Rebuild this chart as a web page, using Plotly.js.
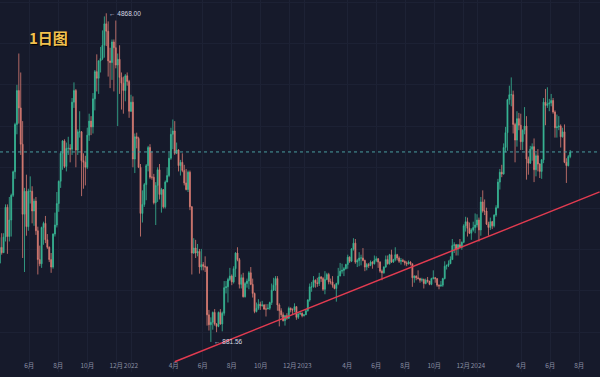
<!DOCTYPE html>
<html><head><meta charset="utf-8">
<script src="https://cdn.plot.ly/plotly-3.0.1.min.js"></script>
<style>html,body{margin:0;padding:0;background:#161a2b;}#chart{width:600px;height:377px;}</style>
</head><body><div id="chart"></div>
<script>
// ETH/USDT, candles aggregated every 4 days (open = previous close)
const startDate = '2021-03-31';
const stepDays = 4;
const firstOpen = 1840;

const closes = [
2028,1964,2153,2515,2160,2360,2660,2945,3520,3930,
3720,3280,2430,2710,2280,2710,2710,2470,2590,2230,
1880,1830,2270,2320,2120,2030,1880,1790,2190,2300,
2560,2830,3170,3320,3010,3230,3230,3220,3790,3930,
3210,3430,3430,3080,3060,3000,3390,3560,3490,3830,
4160,4080,4290,4320,4480,4740,4650,4290,4270,4520,
4450,4240,4310,4090,4020,3930,4110,4040,3680,
3790,3100,3370,3350,3000,2440,2550,2790,3020,3240,
2880,2880,2570,2780,2970,2670,2730,2520,2820,2900,
3110,3400,3440,3170,3210,3020,3060,2960,2810,2730,
2940,2520,1960,2020,1960,1980,1790,1820,1800,1790,
1210,1090,1120,1240,1100,1070,1240,1100,1230,1540,
1550,1640,1680,1610,1770,1960,1880,1580,1660,1430,
1590,1620,1720,1580,1470,1250,1290,1340,1320,1330,
1280,1280,1290,1360,1510,1570,1650,1330,1260,1210,
1140,1200,1170,1290,1270,1270,1310,1180,1220,1230,
1200,1210,
1260,1390,1550,1550,1630,1600,1590,1670,1650,1520,
1640,1700,1610,1610,1570,1530,1590,1680,1740,1750,
1770,1820,1910,1860,2010,2080,1850,1870,1900,1900,
1870,1790,1820,1810,1850,1830,1870,1890,1850,1740,
1720,1790,1880,1830,1940,1850,1880,1940,1900,1860,
1870,1860,1840,1830,1850,1830,1660,1680,1660,1650,
1630,1640,1590,1630,1620,1580,1650,1660,1650,1570,
1560,1570,1650,1800,1810,1830,1880,2050,2060,2010,
2060,2030,2090,2290,2340,2260,2200,2240,2270,2300,
2360,
2240,2580,2470,2470,2310,2270,2340,2290,2420,2510,
2820,2940,2920,3240,3420,3820,3880,3880,3520,3330,
3590,3510,3310,3450,3500,3100,3050,3220,3250,2970,
3140,3040,2950,3090,3790,3750,3770,3780,3810,3670,
3480,3490,3500,3370,3430,3060,3020,3130,3186
];

const highs = [
2150,2200,2200,2550,2550,2640,2680,2960,3540,4000,
4380,4150,3560,2750,2910,2740,2890,2770,2620,2640,
2280,2050,2280,2340,2410,2190,2040,1960,2200,2450,
2700,2840,3190,3330,3340,3300,3370,3280,3840,4030,
3950,3460,3680,3440,3170,3140,3480,3650,3620,3900,
4180,4370,4300,4460,4660,4830,4868,4770,4450,4550,
4550,4780,4380,4480,4150,4100,4130,4150,4060,
3880,3860,3410,3420,3370,3040,2720,2810,3040,3260,
3280,3190,2920,2820,3000,3040,2750,2730,2840,3000,
3180,3480,3580,3560,3300,3220,3090,3170,3030,2980,
2960,2960,2530,2140,2120,2070,2010,2010,1850,1920,
1800,1270,1180,1250,1280,1110,1250,1280,1250,1620,
1620,1660,1780,1700,1800,1970,2030,1900,1700,1720,
1610,1650,1740,1790,1650,1480,1360,1400,1370,1380,
1340,1340,1340,1370,1590,1660,1680,1680,1350,1290,
1240,1210,1230,1310,1300,1290,1350,1310,1230,1240,
1240,1220,
1280,1400,1590,1610,1680,1640,1660,1720,1680,1670,
1740,1720,1720,1650,1680,1580,1600,1780,1840,1830,
1790,1830,1940,1920,2020,2140,2130,1890,1970,1940,
2020,1880,1840,1840,1870,1860,1930,1920,1900,1860,
1760,1800,1930,1930,1950,2000,1890,2030,1950,1920,
1900,1890,1870,1860,1870,1860,1830,1690,1690,1750,
1660,1660,1650,1650,1670,1620,1660,1750,1670,1650,
1580,1620,1660,1860,1820,1870,1920,2130,2090,2070,
2070,2130,2100,2310,2400,2390,2330,2260,2340,2440,
2430,
2390,2640,2720,2610,2510,2340,2390,2350,2430,2540,
2860,2980,3030,3290,3490,3830,3990,4090,3930,3540,
3680,3660,3650,3460,3730,3620,3130,3260,3290,3350,
3170,3220,3050,3100,3840,3950,3970,3830,3890,3840,
3690,3640,3620,3520,3480,3520,3110,3150,3210
];

const lows = [
1830,1940,1960,2100,1950,2100,2160,2640,2860,3400,
3530,3150,1900,1730,2170,2230,2560,2320,2290,2180,
1700,1800,1780,2060,2080,2010,1850,1720,1770,2160,
2270,2460,2750,2970,2990,2950,3150,3060,3150,3720,
3000,3150,3360,2650,2740,2780,2980,3320,3390,3410,
3690,3920,3890,4150,4300,4330,4470,4100,3960,4060,
3920,4200,3500,3890,3700,3650,3800,3990,3600,
3670,3000,2930,3230,2990,2160,2330,2520,2600,2950,
2860,2850,2550,2300,2580,2610,2450,2500,2500,2820,
2880,3090,3220,3150,3160,2950,2900,2940,2780,2720,
2700,2480,1700,1950,1900,1920,1710,1750,1750,1730,
1080,1020,881.56,1030,1080,1000,1060,1090,1010,1200,
1470,1360,1620,1570,1590,1670,1860,1530,1530,1420,
1420,1540,1520,1570,1420,1230,1240,1270,1270,1310,
1270,1190,1280,1270,1330,1500,1500,1260,1070,1180,
1130,1080,1150,1160,1240,1220,1240,1150,1160,1210,
1180,1190,
1210,1250,1370,1490,1540,1540,1550,1560,1610,1500,
1460,1630,1580,1580,1540,1520,1370,1570,1680,1710,
1680,1760,1770,1840,1850,1990,1830,1790,1800,1810,
1860,1740,1750,1780,1800,1770,1820,1850,1780,1720,
1630,1710,1780,1820,1820,1840,1840,1860,1870,1840,
1820,1850,1810,1800,1820,1810,1550,1600,1630,1640,
1600,1610,1530,1580,1600,1570,1570,1640,1600,1550,
1520,1550,1550,1640,1760,1790,1830,1880,1960,1930,
1930,2020,2000,2080,2220,2160,2190,2120,2220,2200,
2270,
2100,2170,2450,2420,2300,2170,2240,2250,2270,2400,
2500,2730,2880,2910,3180,3200,3760,3740,3410,3060,
3250,3450,3210,3210,3400,2850,2910,3040,3080,2820,
2890,2950,2870,2860,3050,3510,3720,3680,3740,3650,
3360,3360,3450,3240,3360,3050,2810,3010,3110
];

const tickVals = ['2021-06-01','2021-08-01','2021-10-01','2021-12-01','2022-01-01','2022-04-01','2022-06-01','2022-08-01','2022-10-01','2022-12-01','2023-01-01','2023-04-01','2023-06-01','2023-08-01','2023-10-01','2023-12-01','2024-01-01','2024-04-01','2024-06-01','2024-08-01'];
const tickText = ['6月','8月','10月','12月','2022','4月','6月','8月','10月','12月','2023','4月','6月','8月','10月','12月','2024','4月','6月','8月'];

const trendDates = ['2022-04-03','2024-09-13'];
const trendPrices = [642, 2702];
const chartLabel = '1日图';

function addDays(s, n){ const d = new Date(s + 'T00:00:00Z'); d.setUTCDate(d.getUTCDate() + n); return d.toISOString().slice(0,10); }
const dates = closes.map((_, i) => addDays(startDate, i * stepDays));
const opens = closes.map((c, i) => i === 0 ? firstOpen : closes[i-1]);

let iMax = 0, iMin = 0;
highs.forEach((v,i)=>{ if (v > highs[iMax]) iMax = i; });
lows.forEach((v,i)=>{ if (v < lows[iMin]) iMin = i; });
const lastClose = closes[closes.length-1];

const bg = '#161a2b';
const upC = '#38b896', dnC = '#d97c73';

const traces = [
  {type:'candlestick', x:dates, open:opens, high:highs, low:lows, close:closes,
   increasing:{line:{color:upC,width:0.8}, fillcolor:upC},
   decreasing:{line:{color:dnC,width:0.8}, fillcolor:dnC},
   whiskerwidth:0, hoverinfo:'skip', showlegend:false},
  {type:'scatter', mode:'lines', x:trendDates, y:trendPrices,
   line:{color:'#e23b50', width:1.5}, hoverinfo:'skip', showlegend:false}
];

const layout = {
  width:600, height:377,
  margin:{l:0, r:0, t:0, b:5},
  paper_bgcolor:bg, plot_bgcolor:bg,
  showlegend:false,
  xaxis:{type:'date', range:['2021-03-31 09:36','2024-09-13 16:48'],
    rangeslider:{visible:false}, tickmode:'array', tickvals:tickVals, ticktext:tickText,
    ticklabelposition:'inside', ticks:'', tickangle:0,
    tickfont:{size:6.5, color:'#8a8fa3', family:'Noto Sans CJK SC, Liberation Sans'},
    showgrid:true, gridcolor:'#1d2235', gridwidth:1, zeroline:false, showline:false, fixedrange:true},
  yaxis:{range:[517,5029], showticklabels:false, showgrid:true, gridcolor:'#1c2134',
    dtick:500, tick0:0, zeroline:false, showline:false, ticks:'', fixedrange:true},
  shapes:[{type:'line', xref:'paper', x0:0, x1:1, yref:'y', y0:lastClose, y1:lastClose,
    line:{color:'#4a9ea0', width:1, dash:'3px,3px'}}],
  annotations:[
    {xref:'paper', yref:'paper', x:0.0808, y:0.9005, xanchor:'center', yanchor:'middle',
     text:chartLabel, showarrow:false,
     font:{family:'Noto Sans CJK SC', size:15, color:'#f2c14e', weight:'bold', shadow:'1px 1px 1px #000'}},
    {x:dates[iMax], y:highs[iMax], xanchor:'left', yanchor:'middle', xshift:1,
     text:'← ' + highs[iMax].toFixed(2), showarrow:false,
     font:{family:'Liberation Sans', size:6.5, color:'#d5d8e2'}},
    {x:dates[iMin], y:lows[iMin], xanchor:'left', yanchor:'middle', xshift:1,
     text:'← ' + lows[iMin].toFixed(2), showarrow:false,
     font:{family:'Liberation Sans', size:6.5, color:'#d5d8e2'}}
  ]
};

Plotly.newPlot('chart', traces, layout, {staticPlot:true, displayModeBar:false});
</script>
</body></html>
